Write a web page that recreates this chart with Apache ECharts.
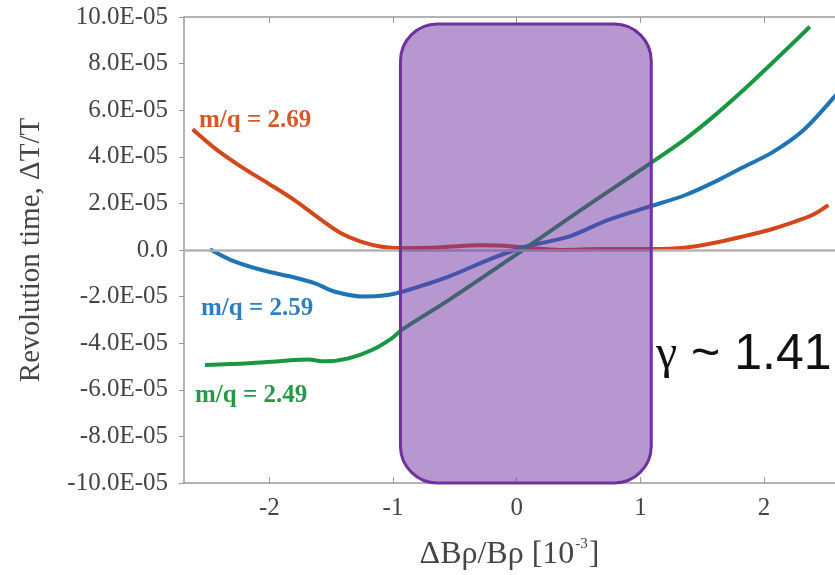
<!DOCTYPE html>
<html>
<head>
<meta charset="utf-8">
<script src="https://cdn.jsdelivr.net/npm/echarts@6.0.0/dist/echarts.min.js"></script>
<style>
  html, body { margin: 0; padding: 0; background: #fff; }
  #chart { width: 835px; height: 575px; }
</style>
</head>
<body>
<div id="chart"></div>
<script>
// values in units of 1E-05 (y) and 10^-3 (x)
var xTickValues = [-2, -1, 0, 1, 2];
var yTickLabels = ['-10.0E-05', '-8.0E-05', '-6.0E-05', '-4.0E-05', '-2.0E-05', '0.0',
                   '2.0E-05', '4.0E-05', '6.0E-05', '8.0E-05', '10.0E-05'];

var seriesNames = ['m/q = 2.69', 'm/q = 2.59', 'm/q = 2.49'];

var red269 = [
  [-2.62, 5.18], [-2.44, 4.36], [-2.23, 3.58], [-2.01, 2.86], [-1.80, 2.15], [-1.58, 1.29],
  [-1.42, 0.72], [-1.26, 0.36], [-1.09, 0.14], [-0.93, 0.08], [-0.6, 0.12], [-0.3, 0.2],
  [-0.1, 0.18], [0.1, 0.08], [0.35, 0.0], [0.7, 0.04], [1.09, 0.04], [1.36, 0.1],
  [1.58, 0.29], [1.82, 0.57], [2.04, 0.86], [2.25, 1.22], [2.39, 1.5], [2.52, 1.93]
];
var blue259 = [
  [-2.48, 0.03], [-2.31, -0.43], [-2.06, -0.86], [-1.82, -1.15], [-1.63, -1.43], [-1.47, -1.79],
  [-1.23, -2.0], [-1.04, -1.93], [-0.93, -1.8], [-0.55, -1.14], [-0.2, -0.36], [0.07, 0.14],
  [0.42, 0.57], [0.74, 1.29], [1.07, 1.86], [1.36, 2.35], [1.63, 3.0], [1.83, 3.55],
  [2.07, 4.2], [2.32, 5.15], [2.57, 6.58], [2.75, 7.7]
];
var green249 = [
  [-2.52, -4.94], [-2.17, -4.86], [-1.90, -4.76], [-1.69, -4.7], [-1.55, -4.78], [-1.36, -4.65],
  [-1.17, -4.29], [-1.01, -3.79], [-0.93, -3.43], [-0.55, -2.15], [0.07, 0.07], [0.42, 1.36],
  [0.8, 2.72], [1.08, 3.72], [1.36, 4.75], [1.58, 5.68], [1.82, 6.8], [2.09, 8.15], [2.37, 9.58]
];

// highlighted window: [x0, yTop, x1, yBottom]
var windowBox = [[-0.94, 9.7, 1.088, -10]];

(function() {
  var serif = 'Liberation Serif';
  var sans = 'Liberation Sans';
  var axisGray = '#9a9a9a';
  var textGray = '#454545';
  var red = '#d4461b', blue = '#1f74b6', green = '#199640';

  var chart = echarts.init(document.getElementById('chart'), null, { renderer: 'canvas' });

  function xAxisBase(extra) {
    var a = {
      type: 'value', min: -2.69, max: 2.8,
      splitLine: { show: false },
      axisLine: { onZero: false, lineStyle: { color: axisGray, width: 1.5 } },
      axisTick: { inside: true, length: 6, customValues: xTickValues, lineStyle: { color: axisGray } },
      axisLabel: { show: false }
    };
    for (var k in extra) a[k] = extra[k];
    return a;
  }

  function line(name, data, color) {
    return {
      name: name, type: 'line', data: data, smooth: 0.3,
      showSymbol: false, symbol: 'none', z: 3,
      lineStyle: { color: color, width: 4 }
    };
  }

  var redSeries = line(seriesNames[0], red269, red);
  // gray zero reference line
  redSeries.markLine = {
    silent: true, symbol: 'none', label: { show: false },
    lineStyle: { color: '#b4b4b4', width: 2.5, type: 'solid' },
    data: [{ yAxis: 0 }]
  };

  chart.setOption({
    animation: false,
    grid: { left: 184, right: -28, top: 17, bottom: 92, containLabel: false, outerBoundsMode: 'none' },
    xAxis: [
      xAxisBase({
        position: 'bottom',
        axisLabel: {
          customValues: xTickValues, margin: 13, color: textGray,
          fontFamily: serif, fontSize: 25
        },
        name: '{a|ΔBρ/Bρ [10}{s|-3}{a|]}',
        nameLocation: 'middle', nameGap: 54,
        nameTextStyle: {
          padding: [0, 28, 0, 0],
          rich: {
            a: { fontFamily: serif, fontSize: 32, color: textGray, lineHeight: 36 },
            s: { fontFamily: serif, fontSize: 15, color: textGray, lineHeight: 36, verticalAlign: 'top', padding: [0, 1, 14, 1] }
          }
        }
      }),
      xAxisBase({ position: 'top' })
    ],
    yAxis: {
      type: 'value', min: -10, max: 10, interval: 2,
      splitLine: { show: false },
      axisLine: { show: true, onZero: false, lineStyle: { color: axisGray, width: 1.5 } },
      axisTick: { show: true, length: 5, lineStyle: { color: axisGray } },
      axisLabel: {
        margin: 16, color: textGray, fontFamily: serif, fontSize: 25,
        formatter: function(v) { return yTickLabels[Math.round((v + 10) / 2)]; }
      },
      name: 'Revolution time, ΔT/T',
      nameLocation: 'middle', nameGap: 138,
      nameTextStyle: { fontFamily: serif, fontSize: 29, color: textGray }
    },
    series: [
      redSeries,
      line(seriesNames[1], blue259, blue),
      line(seriesNames[2], green249, green),
      {
        type: 'custom', data: windowBox, z: 5,
        encode: { x: [0, 2], y: [1, 3] },
        renderItem: function(params, api) {
          var p0 = api.coord([api.value(0), api.value(1)]);
          var p1 = api.coord([api.value(2), api.value(3)]);
          return {
            type: 'rect',
            shape: { x: p0[0], y: p0[1], width: p1[0] - p0[0], height: p1[1] - p0[1], r: 37 },
            style: { fill: 'rgba(112,48,160,0.5)', stroke: '#7030a0', lineWidth: 3 }
          };
        }
      }
    ],
    graphic: [
      { type: 'text', left: 199, top: 108, z: 10,
        style: { text: seriesNames[0], fill: '#d3582a', font: 'bold 25px "Liberation Serif"' } },
      { type: 'text', left: 201, top: 296, z: 10,
        style: { text: seriesNames[1], fill: '#2f7fc0', font: 'bold 25px "Liberation Serif"' } },
      { type: 'text', left: 195, top: 383, z: 10,
        style: { text: seriesNames[2], fill: '#27984a', font: 'bold 25px "Liberation Serif"' } },
      { type: 'text', left: 656, top: 330, z: 10,
        style: {
          text: '{g|γ}{t| ~ 1.41}',
          rich: {
            g: { fontFamily: serif, fontSize: 48, fill: '#111' },
            t: { fontFamily: sans, fontSize: 50, fill: '#111' }
          }
        } }
    ]
  });
  window.addEventListener('resize', function() { chart.resize(); });
})();
</script>
</body>
</html>
